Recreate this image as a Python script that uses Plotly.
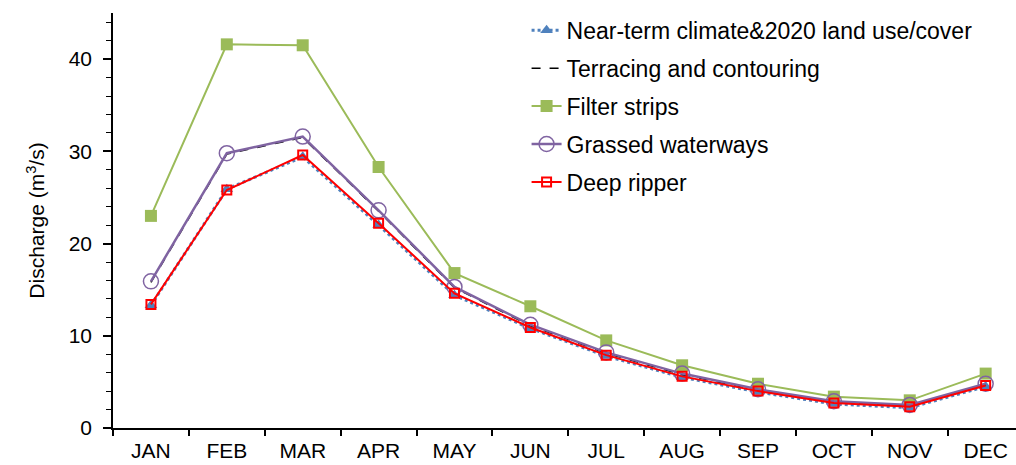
import plotly.graph_objects as go

months = ["JAN", "FEB", "MAR", "APR", "MAY", "JUN", "JUL", "AUG", "SEP", "OCT", "NOV", "DEC"]
near_term = [13.3, 25.9, 29.4, 22.0, 14.4, 10.8, 7.8, 5.5, 3.9, 2.6, 2.2, 4.5]
terracing = [15.8, 29.7, 31.5, 23.5, 15.2, 11.1, 8.1, 5.8, 4.1, 2.8, 2.4, 4.7]
filter_strips = [23.0, 41.6, 41.5, 28.3, 16.8, 13.2, 9.5, 6.8, 4.8, 3.4, 3.0, 5.9]
grassed = [15.9, 29.8, 31.6, 23.6, 15.3, 11.2, 8.2, 5.9, 4.2, 2.9, 2.5, 4.8]
deep_ripper = [13.4, 25.8, 29.6, 22.2, 14.6, 10.9, 7.9, 5.6, 4.0, 2.7, 2.3, 4.6]

fig = go.Figure()
fig.add_trace(go.Scatter(x=months, y=near_term, name="Near-term climate&2020 land use/cover",
                         mode="lines+markers", legendgroup="a",
                         line=dict(color="#4F81BD", width=3, dash="dot"),
                         marker=dict(symbol="triangle-up", size=11, color="#4F81BD")))
fig.add_trace(go.Scatter(x=months, y=terracing, name="Terracing and contouring",
                         mode="lines", legendgroup="b",
                         line=dict(color="black", width=1.5, dash="dash")))
fig.add_trace(go.Scatter(x=months, y=filter_strips, name="Filter strips",
                         mode="lines+markers", legendgroup="c",
                         line=dict(color="#9BBB59", width=2),
                         marker=dict(symbol="square", size=12, color="#9BBB59")))
fig.add_trace(go.Scatter(x=months, y=grassed, name="Grassed waterways",
                         mode="lines+markers", legendgroup="d",
                         line=dict(color="#7F63A1", width=2.5),
                         marker=dict(symbol="circle-open", size=15, color="#8064A2", line=dict(width=1.5))))
fig.add_trace(go.Scatter(x=months, y=deep_ripper, name="Deep ripper",
                         mode="lines+markers", legendgroup="e",
                         line=dict(color="#FF0000", width=2),
                         marker=dict(symbol="square-open", size=9, color="#FF0000", line=dict(width=2))))

fig.update_layout(
    width=1016, height=465,
    margin=dict(l=113, r=0, t=13, b=37),
    plot_bgcolor="white", paper_bgcolor="white",
    font=dict(family="Liberation Sans, Arial, sans-serif", color="black", size=22),
    showlegend=True,
    legend=dict(x=0.458, y=1.01, xanchor="left", yanchor="top",
                font=dict(size=23), tracegroupgap=5, bgcolor="rgba(0,0,0,0)"),
)
fig.update_xaxes(type="category", range=[-0.5, 11.4], showline=True, linecolor="black", linewidth=1.5,
                 ticks="outside", tickson="boundaries", ticklen=6, tickcolor="black", tickwidth=1.5,
                 showgrid=False, zeroline=False, tickfont=dict(size=21), ticklabelstandoff=3)
fig.update_yaxes(range=[0, 45], showline=True, linecolor="black", linewidth=1.5,
                 ticks="outside", ticklen=8, tickcolor="black", tickwidth=1.5,
                 tickvals=[0, 10, 20, 30, 40], showgrid=False, zeroline=False,
                 minor=dict(ticks="outside", ticklen=5, tickcolor="black", tickwidth=1, dtick=2),
                 title=dict(text="Discharge (m<sup>3</sup>/s)", font=dict(size=21), standoff=18),
                 tickfont=dict(size=21), ticklabelstandoff=7)

fig.write_html("out.html")
